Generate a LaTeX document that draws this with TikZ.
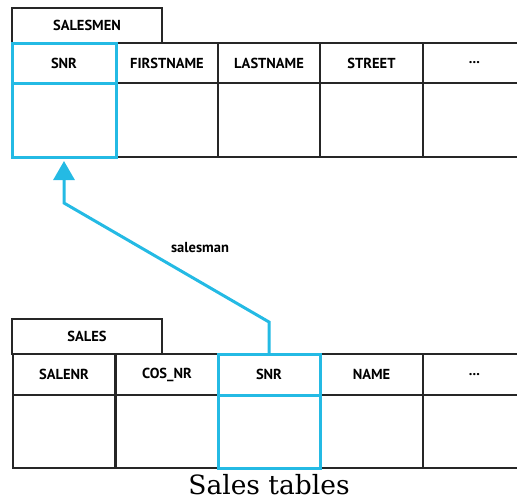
\documentclass[tikz,border=0pt]{standalone}
\usepackage{fontspec}
\setmainfont{DejaVu Serif}
\setsansfont{PT Sans}
\usetikzlibrary{arrows.meta}
\definecolor{keyblue}{RGB}{36,186,228}
\tikzset{
  cell/.style={draw=black!85, line width=1.6pt, inner sep=0pt, outer sep=0pt,
    minimum width=102.5pt, font=\sffamily\bfseries\fontsize{14.5}{16}\selectfont},
  keycell/.style={cell, draw=keyblue, line width=3pt},
  opencell/.style={cell, draw=none},
  link/.style={draw=keyblue, line width=3pt, line join=miter,
    -{Triangle[length=19pt,width=21pt]}},
}
\begin{document}
\begin{tikzpicture}[x=1pt,y=-1pt]

% Parametry
\def\hh{40}
\def\bh{74}

\useasboundingbox (0,0) rectangle (517,499);

% ---------- Tabela SALESMEN ----------
\node[cell, minimum width=150pt, minimum height=35pt] (salesmen) at (87,25.5) {SALESMEN};
\node[cell, minimum height=\hh pt] (firstname) at (167,63) {FIRSTNAME};
\node[cell, minimum height=\hh pt] (lastname) at (269,63) {LASTNAME};
\node[cell, minimum height=\hh pt] (street) at (371.5,63) {STREET};
\node[opencell, minimum height=\hh pt] (moreA) at (474.5,63) {...};
\node[cell, minimum height=\bh pt] (firstnameV) at (167,120) {};
\node[cell, minimum height=\bh pt] (lastnameV) at (269,120) {};
\node[cell, minimum height=\bh pt] (streetV) at (371.5,120) {};
\node[opencell, minimum height=\bh pt] (moreAV) at (474.5,120) {};
\draw[line width=1.6pt, black!85] (moreA.north west) -- (moreA.north east);
\draw[line width=1.6pt, black!85] (moreA.south west) -- (moreA.south east);
\draw[line width=1.6pt, black!85] (moreAV.south west) -- (moreAV.south east);
% klucz
\node[keycell, minimum width=104pt, minimum height=\hh pt] (snrA) at (64,63) {SNR};
\node[keycell, minimum width=104pt, minimum height=\bh pt] (snrAV) at (64,120) {};

% ---------- Tabela SALES ----------
\node[cell, minimum width=150pt, minimum height=35pt] (sales) at (87,336.5) {SALES};
\node[cell, minimum height=41pt] (salenr) at (64,374.5) {SALENR};
\node[cell, minimum height=41pt] (cosnr) at (167,374.5) {COS\_NR};
\node[cell, minimum height=41pt] (name) at (371.5,374.5) {NAME};
\node[opencell, minimum height=41pt] (moreB) at (474.5,374.5) {...};
\node[cell, minimum height=73pt] (salenrV) at (64,431.5) {};
\node[cell, minimum height=73pt] (cosnrV) at (167,431.5) {};
\node[cell, minimum height=73pt] (nameV) at (371.5,431.5) {};
\node[opencell, minimum height=73pt] (moreBV) at (474.5,431.5) {};
\draw[line width=1.6pt, black!85] (moreB.north west) -- (moreB.north east);
\draw[line width=1.6pt, black!85] (moreB.south west) -- (moreB.south east);
\draw[line width=1.6pt, black!85] (moreBV.south west) -- (moreBV.south east);
% klucz obcy
\node[keycell, minimum width=102pt, minimum height=41pt] (snrB) at (269,374.5) {SNR};
\node[keycell, minimum width=102pt, minimum height=73pt] (snrBV) at (269,431.5) {};

% ---------- Powiazanie ----------
\coordinate (bendB) at (269,322);
\coordinate (bendA) at (64,203);
\draw[link, shorten >=4pt] (snrB.north) -- (bendB) -- (bendA) -- (snrAV.south);
\node[font=\sffamily\bfseries\fontsize{14.5}{16}\selectfont] (salesman) at (200,248) {salesman};

% podpis
\node[font=\fontsize{26.5}{31}\selectfont, inner sep=0pt, anchor=base] (caption) at (269,494) {Sales tables};

\end{tikzpicture}
\end{document}
